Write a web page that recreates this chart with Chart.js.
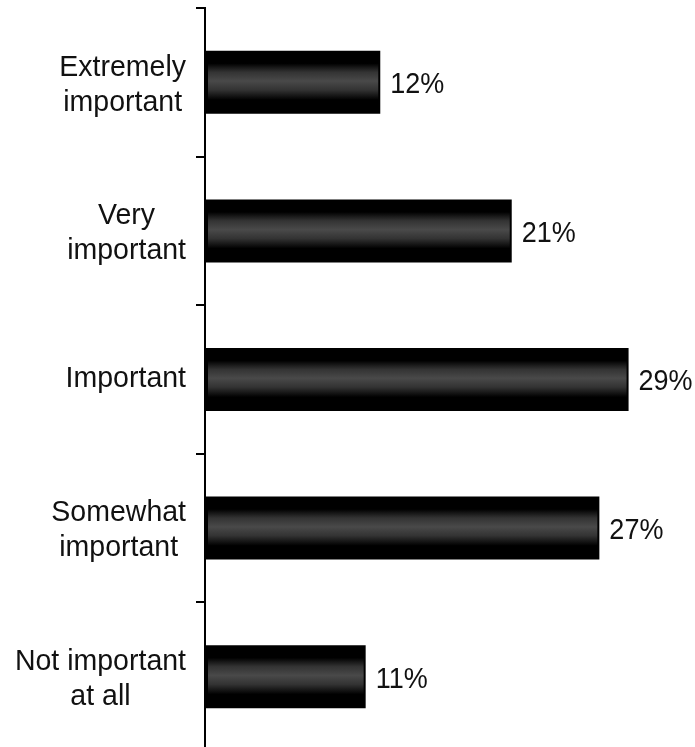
<!DOCTYPE html>
<html>
<head>
<meta charset="utf-8">
<script src="https://cdn.jsdelivr.net/npm/chart.js@4/dist/chart.umd.min.js"></script>
<style>
  html, body { margin: 0; padding: 0; background: #fff; overflow: hidden; }
  canvas { display: block; }
</style>
</head>
<body>
<canvas id="chart" width="695" height="755"></canvas>
<script>
// Answer categories (one entry per bar, split into display lines)
const categories = [
  ["Extremely", "important"],
  ["Very", "important"],
  ["Important"],
  ["Somewhat", "important"],
  ["Not important", "at all"]
];
// Share of respondents per category, in percent
const shares = [12, 21, 29, 27, 11];
// Text printed after each bar
const valueLabels = shares.map(v => v + "%");

const FONT = '"Liberation Sans", Arial, sans-serif';

// Category names: each block right-aligned to the axis, lines centred within the block
const categoryLabels = {
  id: "categoryLabels",
  afterDraw(chart) {
    const ctx = chart.ctx;
    const y = chart.scales.y;
    const sx = 0.95, lineH = 35, capH = 21.5;
    ctx.save();
    ctx.fillStyle = "#111";
    ctx.font = "30px " + FONT;
    ctx.textAlign = "center";
    ctx.textBaseline = "alphabetic";
    categories.forEach((lines, i) => {
      const c = y.getPixelForValue(i);
      const maxW = Math.max(...lines.map(l => ctx.measureText(l).width)) * sx;
      const cx = y.right - 19 - maxW / 2;
      const n = lines.length;
      lines.forEach((line, k) => {
        const base = c + capH / 2 + (k - (n - 1) / 2) * lineH - (n === 1 ? 3 : 0);
        ctx.save();
        ctx.translate(cx, base);
        ctx.scale(sx, 1);
        ctx.fillText(line, 0, 0);
        ctx.restore();
      });
    });
    ctx.restore();
  }
};

// Grey band through the middle of each bar, plus the value text at its end
const barDecor = {
  id: "barDecor",
  afterDatasetsDraw(chart) {
    const ctx = chart.ctx;
    const meta = chart.getDatasetMeta(0);
    ctx.save();
    meta.data.forEach((bar, i) => {
      const p = bar.getProps(["x", "y", "base", "height"], true);
      const top = p.y - p.height / 2, bot = p.y + p.height / 2;
      const g = ctx.createLinearGradient(0, top, 0, bot);
      g.addColorStop(0.0, "rgba(170,170,170,0)");
      g.addColorStop(0.20, "rgba(170,170,170,0)");
      g.addColorStop(0.34, "rgba(170,170,170,0.3)");
      g.addColorStop(0.48, "rgba(175,175,175,0.42)");
      g.addColorStop(0.62, "rgba(170,170,170,0.3)");
      g.addColorStop(0.78, "rgba(170,170,170,0)");
      g.addColorStop(1.0, "rgba(170,170,170,0)");
      ctx.fillStyle = g;
      ctx.fillRect(p.base + 3, top, p.x - p.base - 5, p.height);

      ctx.fillStyle = "#111";
      ctx.font = "30px " + FONT;
      ctx.textAlign = "left";
      ctx.textBaseline = "alphabetic";
      ctx.save();
      ctx.translate(p.x + 10, p.y + 10.8);
      ctx.scale(0.9, 1);
      ctx.fillText(valueLabels[i], 0, 0);
      ctx.restore();
    });
    ctx.restore();
  }
};

new Chart(document.getElementById("chart"), {
  type: "bar",
  data: {
    labels: categories,
    datasets: [{
      data: shares,
      backgroundColor: "#000",
      borderWidth: 0,
      barPercentage: 0.424,
      categoryPercentage: 1
    }]
  },
  options: {
    indexAxis: "y",
    responsive: false,
    animation: false,
    devicePixelRatio: 1,
    layout: { padding: { top: 8, bottom: 4, left: 0, right: 8 } },
    plugins: { legend: { display: false }, tooltip: { enabled: false } },
    scales: {
      x: { display: false, min: 0, max: 33 },
      y: {
        position: "left",
        grid: {
          offset: true,
          drawOnChartArea: false,
          drawTicks: true,
          tickLength: 9,
          color: "#000",
          lineWidth: 2
        },
        border: { display: true, color: "#000", width: 2 },
        ticks: { display: false },
        afterFit(scale) { scale.width = 205; }
      }
    }
  },
  plugins: [categoryLabels, barDecor]
});
</script>
</body>
</html>
